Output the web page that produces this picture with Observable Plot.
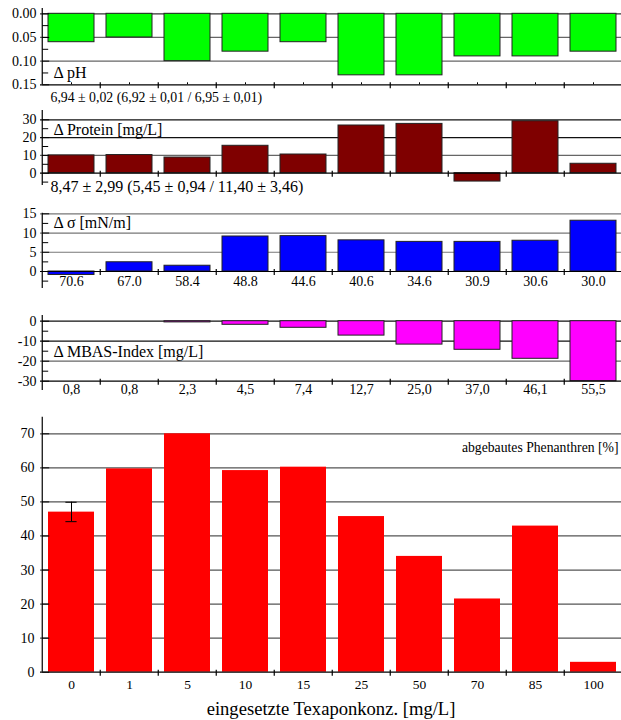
<!DOCTYPE html>
<html><head><meta charset="utf-8">
<script src="https://cdn.jsdelivr.net/npm/d3@7"></script>
<script src="https://cdn.jsdelivr.net/npm/@observablehq/plot@0.6"></script>
<style>
html,body{margin:0;padding:0;overflow:hidden;background:#fff}
#chart{position:relative;width:621px;height:720px}
#chart svg{position:absolute;left:0;max-width:none}
#chart svg text{font-family:"Liberation Serif","DejaVu Serif",serif !important}
</style></head><body><div id="chart"></div>
<script>
// ---- data ----
const concentrations = ["0","1","5","10","15","25","50","70","85","100"];
const deltaPH = [-0.06,-0.05,-0.10,-0.08,-0.06,-0.13,-0.13,-0.09,-0.09,-0.08];
const deltaProtein = [10.0,10.2,8.8,15.4,10.5,26.8,27.7,-4.7,29.2,5.3];
const deltaSigma = [-0.9,2.4,1.5,9.1,9.2,8.1,7.7,7.7,8.0,13.2];
const sigmaLabels = ["70.6","67.0","58.4","48.8","44.6","40.6","34.6","30.9","30.6","30.0"];
const deltaMBAS = [0,0,-0.6,-1.8,-3.3,-7.2,-11.7,-14.3,-18.8,-30];
const mbasLabels = ["0,8","0,8","2,3","4,5","7,4","12,7","25,0","37,0","46,1","55,5"];
const phenanthren = [47.0,59.7,70.0,59.2,60.2,45.7,34.0,21.5,42.9,2.9];
const errCats = ["0"];
const errLow = [44.2];
const errHigh = [49.9];
const phTicks = [0,-0.05,-0.10,-0.15];
const proteinTicks = [0,10,20,30];
const sigmaTicks = [0,5,10,15];
const mbasTicks = [0,-10,-20,-30];
const phenTicks = [0,10,20,30,40,50,60,70];
const phNote = "6,94 ± 0,02 (6,92 ± 0,01 / 6,95 ± 0,01)";
const proteinNote = "8,47 ± 2,99 (5,45 ± 0,94 / 11,40 ± 3,46)";

// ---- layout ----
const FONT = "Liberation Serif";
const W = 621, X0 = 40, X1 = 625;
const STEP = (X1 - X0) / concentrations.length;
const BW = STEP * 0.8;
const chart = document.getElementById("chart");

function xScale() {
  return {type: "band", domain: concentrations, range: [X0, X1], paddingInner: 0.2, paddingOuter: 0.1, align: 0.5, axis: null};
}
const T = (o) => ({fontFamily: FONT, fill: "#000", lineAnchor: "middle", ...o});

function panel(cfg) {
  const {top, height, mTop, mBottom, domain, range, values, fill, stroke, grids, ticks, tickFormat, tickDx, minor, base, extra} = cfg;
  const k = (range[0] - range[1]) / (domain[1] - domain[0]);
  const marks = [];
  for (const g of grids) marks.push(Plot.ruleY(g.v, {stroke: g.c, strokeWidth: 1.2}));
  marks.push(Plot.barY(concentrations, {x: d => d, y: (d, i) => values[i], fill, stroke: stroke || "none", strokeWidth: 1}));
  marks.push(Plot.ruleY([base], {stroke: "#000", strokeWidth: 1.2}));
  marks.push(Plot.ruleX([concentrations[0]], {x: d => d, dx: -STEP / 2, stroke: "#000", strokeWidth: 1.2}));
  marks.push(Plot.ruleX(concentrations.slice(1), {x: d => d, dx: -STEP / 2, y1: base + 2 / k, y2: base - 4 / k, stroke: "#000", strokeWidth: 1.2}));
  marks.push(Plot.tickY(ticks, {y: d => d, x: () => concentrations[0], insetLeft: -(STEP - BW) / 2, insetRight: BW - 2, stroke: "#000"}));
  if (minor) marks.push(Plot.tickY(minor, {y: d => d, x: () => concentrations[0], insetLeft: -(STEP - BW) / 2, insetRight: BW - 1, stroke: "#000"}));
  marks.push(Plot.text(ticks, T({frameAnchor: "left", y: d => d, text: tickFormat, dx: tickDx ?? -4, textAnchor: "end", fontSize: 14})));
  if (extra) marks.push(...extra);
  const svg = Plot.plot({
    width: W, height, marginLeft: X0, marginRight: 0, marginTop: mTop, marginBottom: mBottom,
    style: {fontFamily: FONT, fontSize: "14px", background: "transparent", color: "#000"},
    x: xScale(),
    y: {domain, range, axis: null},
    marks
  });
  svg.style.top = top + "px";
  chart.appendChild(svg);
}

// ΔpH
panel({
  top: 0, height: 105, mTop: 8, mBottom: 20.7,
  domain: [-0.15, 0], range: [84.3, 13.3],
  values: deltaPH, fill: "#00ff00", stroke: "#222",
  grids: [{v: [-0.05, -0.10], c: "#666"}, {v: [0], c: "#333"}],
  ticks: phTicks, tickFormat: d => Math.abs(d).toFixed(2),
  minor: [-0.025, -0.075, -0.125], base: -0.15,
  extra: [
    Plot.ruleX(concentrations, {x: d => d, y1: -0.15, y2: -0.15 + 2 / 474, stroke: "#000"}),
    Plot.text(["Δ pH"], T({frameAnchor: "left", y: () => -0.124, dx: 13, textAnchor: "start", fontSize: 16})),
    Plot.text([phNote], T({frameAnchor: "bottom-left", dx: 10, dy: 12.4, textAnchor: "start", fontSize: 13.8}))
  ]
});

// ΔProtein
panel({
  top: 105, height: 95, mTop: 5, mBottom: 15,
  domain: [0, 30], range: [67.7, 14.3],
  values: deltaProtein, fill: "#7f0000", stroke: "#222",
  grids: [{v: [10], c: "#666"}, {v: [20, 30], c: "#111"}],
  ticks: proteinTicks, tickFormat: d => String(d),
  minor: [-5, 5, 15, 25], base: 0,
  extra: [
    Plot.text(["Δ Protein [mg/L]"], T({frameAnchor: "left", y: () => 24.6, dx: 13, textAnchor: "start", fontSize: 16})),
    Plot.text([proteinNote], T({frameAnchor: "left", y: () => 0, dx: 10, dy: 13.5, textAnchor: "start", fontSize: 16}))
  ]
});

// Δσ
panel({
  top: 200, height: 100, mTop: 12.7, mBottom: 12,
  domain: [0, 15], range: [71, 13.3],
  values: deltaSigma, fill: "#0000ff", stroke: "#222",
  grids: [{v: [5, 10, 15], c: "#777"}],
  ticks: sigmaTicks, tickFormat: d => String(d),
  minor: [-2.5, 2.5, 7.5, 12.5], base: 0,
  extra: [
    Plot.text(["Δ σ [mN/m]"], T({frameAnchor: "left", y: () => 12.55, dx: 13, textAnchor: "start", fontSize: 16})),
    Plot.text(concentrations, T({x: d => d, y: () => 0, text: (d, i) => sigmaLabels[i], dy: 10.5, fontSize: 14}))
  ]
});

// ΔMBAS
panel({
  top: 300, height: 105, mTop: 15, mBottom: 15,
  domain: [-30, 0], range: [80.7, 20.7],
  values: deltaMBAS, fill: "#ff00ff", stroke: "#222",
  grids: [{v: [-20], c: "#666"}, {v: [0, -10], c: "#111"}],
  ticks: mbasTicks, tickFormat: d => String(d),
  minor: [-5, -15, -25], base: -30,
  extra: [
    Plot.text(["Δ MBAS-Index [mg/L]"], T({frameAnchor: "left", y: () => -15.5, dx: 13, textAnchor: "start", fontSize: 16})),
    Plot.text(concentrations, T({x: d => d, y: () => -30, text: (d, i) => mbasLabels[i], dy: 8.5, fontSize: 14}))
  ]
});

// Phenanthren
panel({
  top: 405, height: 315, mTop: 11.7, mBottom: 48.3,
  domain: [0, 70], range: [266.7, 28.3],
  values: phenanthren, fill: "#ff0000", stroke: null,
  grids: [{v: [10, 20, 30, 40, 50, 60, 70], c: "#555"}],
  ticks: phenTicks, tickFormat: d => String(d), tickDx: -6,
  minor: null, base: 0,
  extra: [
    Plot.ruleX(errCats, {x: d => d, y1: (d, i) => errLow[i], y2: (d, i) => errHigh[i], stroke: "#000"}),
    Plot.tickY(errCats, {x: d => d, y: (d, i) => errLow[i], insetLeft: (BW - 12) / 2, insetRight: (BW - 12) / 2, stroke: "#000"}),
    Plot.tickY(errCats, {x: d => d, y: (d, i) => errHigh[i], insetLeft: (BW - 12) / 2, insetRight: (BW - 12) / 2, stroke: "#000"}),
    Plot.text(["abgebautes Phenanthren [%]"], T({frameAnchor: "right", y: () => 66.06, dx: -3, textAnchor: "end", fontSize: 13.7})),
    Plot.text(concentrations, T({x: d => d, y: () => 0, text: d => d, dy: 12.6, fontSize: 13.5})),
    Plot.text(["eingesetzte Texaponkonz. [mg/L]"], T({frameAnchor: "bottom", dy: 36.6, fontSize: 18.6}))
  ]
});
</script></body></html>
